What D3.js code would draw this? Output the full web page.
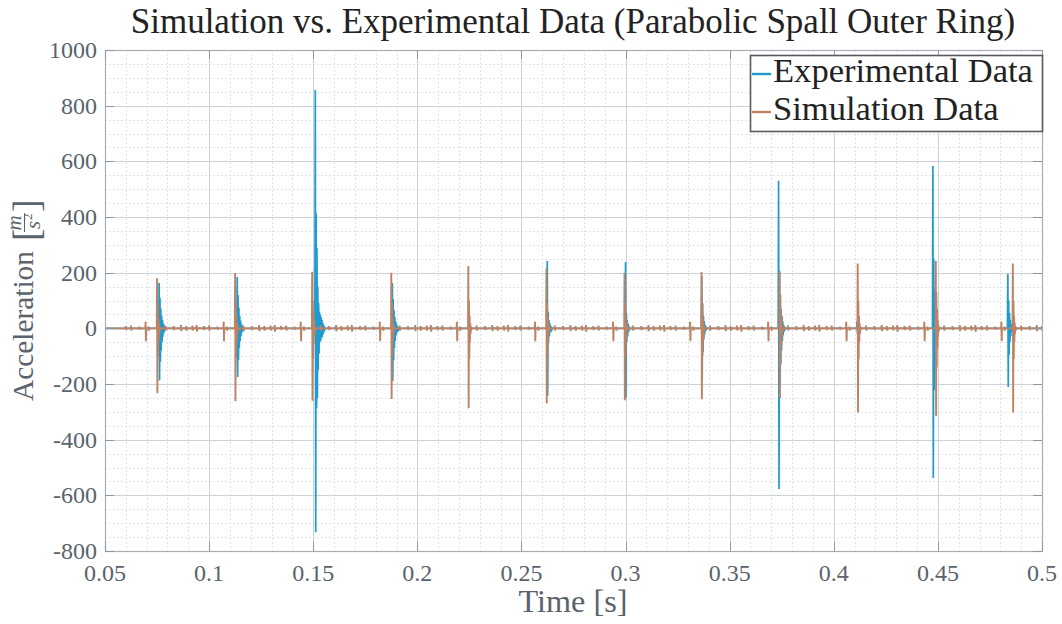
<!DOCTYPE html>
<html>
<head>
  <meta charset="utf-8">
  <title>Simulation vs. Experimental Data</title>
  <style>
    body { margin: 0; padding: 0; background: white; font-family: "Liberation Serif", serif; }
    #chart { width: 1062px; height: 624px; }
    .grid-major line { stroke: #cdd1da; stroke-width: 1; }
    .grid-minor line { stroke: #e0e3e9; stroke-width: 1; stroke-dasharray: 2,2; }
    .tick-label { fill: #5a636c; font-size: 24px; }
    .axis-label { fill: #5a636c; font-size: 30px; }
  </style>
</head>
<body>
  <div id="chart"></div>
  <script src="https://d3js.org/d3.v7.min.js"></script>
  <script>

  // impact times [s]
  var expTimes = [0.0760, 0.1135, 0.1510, 0.1880, 0.2248, 0.2624, 0.3000, 0.3366, 0.3735, 0.4112, 0.4476, 0.4836]
  var simTimes = [0.0750, 0.1125, 0.1495, 0.1875, 0.2245, 0.2620, 0.2995, 0.3365, 0.3740, 0.4115, 0.4490, 0.4860]

  // experimental bursts: alternating peak values after each impact [m/s^2]
  var expBursts = [
    [163, -187, 110, -120, 70, -80, 45, -50, 30, -30, 18, -18, 10, -10, 5, -5],
    [184, -175, 120, -115, 75, -70, 45, -45, 28, -28, 16, -16, 9, -9, 4, -4],
    [856, -733, 413, -287, 288, -250, 150, -150, 90, -90, 60, -50, 50, -45, 40, -35, 30, -30, 20, -20, 12, -12, 6, -6],
    [163, -189, 105, -115, 65, -70, 40, -45, 25, -25, 15, -15, 8, -8, 4, -4],
    [20, -15, 12, -10, 6, -5],
    [242, -242, 60, -50, 30, -28, 18, -15, 10, -8, 5, -4],
    [238, -250, 55, -50, 30, -28, 16, -14, 8, -7],
    [188, -186, 90, -85, 45, -40, 25, -22, 12, -10, 6, -5],
    [530, -577, 207, -205, 120, -130, 70, -80, 45, -45, 25, -25, 12, -12, 6, -6],
    [25, -20, 15, -12, 8, -6],
    [583, -538, 251, -222, 140, -130, 80, -75, 45, -45, 25, -25, 12, -12, 6, -6],
    [195, -211, 100, -95, 55, -50, 30, -28, 15, -14, 7, -6]
  ]

  // simulation bursts
  var simBursts = [
    [180, -233, 90, -100, 40, -45, 20, -20, 8, -8],
    [199, -262, 95, -105, 45, -45, 20, -20, 8, -8],
    [203, -260, 100, -110, 55, -55, 25, -25, 10, -10],
    [200, -254, 90, -100, 40, -45, 20, -20, 8, -8],
    [224, -287, 100, -110, 45, -50, 20, -20, 8, -8],
    [215, -269, 90, -100, 40, -45, 20, -20, 8, -8],
    [199, -258, 90, -100, 40, -45, 20, -20, 8, -8],
    [202, -255, 90, -100, 40, -45, 20, -20, 8, -8],
    [203, -251, 120, -130, 60, -60, 30, -30, 12, -12],
    [233, -302, 100, -110, 45, -50, 20, -20, 8, -8],
    [242, -315, 130, -140, 70, -70, 30, -30, 12, -12],
    [233, -302, 100, -110, 45, -50, 20, -20, 8, -8]
  ]

  // small simulation blips around each impact: [offset s, up, down]
  var simBlips = [
    [-0.0150, 8, -6], [-0.0125, 10, -8], [-0.0085, 6, -5], [-0.0055, 24, -46],
    [-0.0040, 6, -8], [0.0040, 10, -8], [0.0080, 8, -6], [0.0115, 12, -10],
    [0.0140, 8, -8], [0.0170, 10, -8], [0.0190, 12, -12]
  ]

  var xTicks = [0.05, 0.1, 0.15, 0.2, 0.25, 0.3, 0.35, 0.4, 0.45, 0.5]
  var xTickLabels = ["0.05", "0.1", "0.15", "0.2", "0.25", "0.3", "0.35", "0.4", "0.45", "0.5"]
  var yTicks = [-800, -600, -400, -200, 0, 200, 400, 600, 800, 1000]

  var width = 1062,
      height = 624
  var mLeft = 105, mRight = 1042, mTop = 50, mBottom = 551

  var x = d3.scaleLinear().domain([0.05, 0.5]).range([mLeft, mRight])
  var y = d3.scaleLinear().domain([-800, 1000]).range([mBottom, mTop])

  var svg = d3.select("#chart").append("svg")
      .attr("width", width)
      .attr("height", height)

  // clip the lines to the axes area
  svg.append("defs").append("clipPath").attr("id", "plot-clip")
    .append("rect")
      .attr("x", mLeft).attr("y", mTop)
      .attr("width", mRight - mLeft).attr("height", mBottom - mTop)

  // scale a text's font size so it spans the given width
  function fitWidth(sel, target) {
    var fs = parseFloat(window.getComputedStyle(sel.node()).fontSize)
    var w = sel.node().getComputedTextLength()
    sel.style("font-size", (fs * target / w) + "px")
  }

  // minor grid
  var minorX = d3.range(5, 51).map(function (d) { return d / 100 }).filter(function (d) { return Math.round(d * 1000) % 50 !== 0 })
  var minorY = d3.range(-800, 1001, 50).filter(function (d) { return d % 200 !== 0 })

  var gMinor = svg.append("g").attr("class", "grid-minor")
  gMinor.selectAll(".mx").data(minorX).enter().append("line")
      .attr("x1", function (d) { return Math.round(x(d)) + 0.5 })
      .attr("x2", function (d) { return Math.round(x(d)) + 0.5 })
      .attr("y1", mTop).attr("y2", mBottom)
  gMinor.selectAll(".my").data(minorY).enter().append("line")
      .attr("y1", function (d) { return Math.round(y(d)) + 0.5 })
      .attr("y2", function (d) { return Math.round(y(d)) + 0.5 })
      .attr("x1", mLeft).attr("x2", mRight)

  // major grid
  var gMajor = svg.append("g").attr("class", "grid-major")
  gMajor.selectAll(".gx").data(xTicks).enter().append("line")
      .attr("x1", function (d) { return Math.round(x(d)) + 0.5 })
      .attr("x2", function (d) { return Math.round(x(d)) + 0.5 })
      .attr("y1", mTop).attr("y2", mBottom)
  gMajor.selectAll(".gy").data(yTicks).enter().append("line")
      .attr("y1", function (d) { return Math.round(y(d)) + 0.5 })
      .attr("y2", function (d) { return Math.round(y(d)) + 0.5 })
      .attr("x1", mLeft).attr("x2", mRight)

  // build a line series from bursts (and blips)
  function buildSeries(times, bursts, dt, blips) {
    var events = []
    times.forEach(function (t, i) {
      events.push({ t: t, vals: bursts[i] })
      if (blips) blips.forEach(function (b) {
        events.push({ t: t + b[0], vals: [b[1], b[2]] })
      })
    })
    events.sort(function (a, b) { return a.t - b.t })
    var pts = [[0.05, 0]]
    events.forEach(function (e) {
      pts.push([e.t - dt, 0])
      e.vals.forEach(function (v, k) { pts.push([e.t + k * dt, v]) })
      pts.push([e.t + e.vals.length * dt, 0])
    })
    pts.push([0.5, 0])
    return pts
  }

  var expSeries = buildSeries(expTimes, expBursts, 0.0002)
  var simSeries = buildSeries(simTimes, simBursts, 0.00015, simBlips)

  var line = d3.line()
      .x(function (d) { return x(d[0]) })
      .y(function (d) { return y(d[1]) })

  var gLines = svg.append("g").attr("clip-path", "url(#plot-clip)")

  gLines.append("path")
      .datum(expSeries)
      .attr("d", line)
      .attr("fill", "none")
      .attr("stroke", "#1f9bcf")
      .attr("stroke-width", 1.7)

  gLines.append("path")
      .datum(simSeries)
      .attr("d", line)
      .attr("fill", "none")
      .attr("stroke", "#bf8262")
      .attr("stroke-width", 1.9)

  // axis box and ticks
  svg.append("rect")
      .attr("x", mLeft + 0.5).attr("y", mTop + 0.5)
      .attr("width", mRight - mLeft).attr("height", mBottom - mTop)
      .attr("fill", "none").attr("stroke", "#a8adb6").attr("stroke-width", 1.2)

  var gTicks = svg.append("g").attr("stroke", "#8f959f").attr("stroke-width", 1)
  yTicks.forEach(function (d) {
    var yy = Math.round(y(d)) + 0.5
    gTicks.append("line").attr("x1", mLeft).attr("x2", mLeft + 9).attr("y1", yy).attr("y2", yy)
    gTicks.append("line").attr("x1", mRight - 9).attr("x2", mRight).attr("y1", yy).attr("y2", yy)
  })
  xTicks.forEach(function (d) {
    var xx = Math.round(x(d)) + 0.5
    gTicks.append("line").attr("x1", xx).attr("x2", xx).attr("y1", mBottom).attr("y2", mBottom - 9)
    gTicks.append("line").attr("x1", xx).attr("x2", xx).attr("y1", mTop).attr("y2", mTop + 9)
  })

  // tick labels
  svg.append("g").selectAll("text").data(yTicks).enter().append("text")
      .attr("class", "tick-label")
      .attr("x", mLeft - 8)
      .attr("y", function (d) { return y(d) + 8 })
      .attr("text-anchor", "end")
      .text(function (d) { return d })

  svg.append("g").selectAll("text").data(xTicks).enter().append("text")
      .attr("class", "tick-label")
      .attr("x", function (d) { return x(d) })
      .attr("y", mBottom + 30)
      .attr("text-anchor", "middle")
      .text(function (d, i) { return xTickLabels[i] })

  // title
  var title = svg.append("text")
      .attr("x", 573).attr("y", 33)
      .attr("text-anchor", "middle")
      .attr("fill", "#222")
      .style("font-size", "30px")
      .text("Simulation vs. Experimental Data (Parabolic Spall Outer Ring)")
  fitWidth(title, 885)

  // x label
  var xLabel = svg.append("text")
      .attr("class", "axis-label")
      .attr("x", 573).attr("y", 612)
      .attr("text-anchor", "middle")
      .text("Time [s]")
  fitWidth(xLabel, 109)

  // y label with fraction m / s^2
  var gy = svg.append("g").attr("transform", "translate(33,303) rotate(-90)")
  var accel = gy.append("text").attr("class", "axis-label").attr("x", 0).attr("y", 0).text("Acceleration")
  fitWidth(accel, 150)
  var w1 = accel.node().getComputedTextLength()
  var totalW = w1 + 10 + 36
  accel.attr("x", -totalW / 2)
  var bx = -totalW / 2 + w1 + 10
  gy.append("text").attr("class", "axis-label").attr("x", bx).attr("y", 0)
      .style("font-size", "38px").attr("dy", 6).text("[")
  gy.append("text").attr("class", "axis-label").attr("x", bx + 18).attr("y", -12)
      .attr("text-anchor", "middle").style("font-size", "21px").style("font-style", "italic").text("m")
  gy.append("line").attr("x1", bx + 9).attr("x2", bx + 28).attr("y1", -8.5).attr("y2", -8.5)
      .attr("stroke", "#5a636c").attr("stroke-width", 1)
  gy.append("text").attr("class", "axis-label").attr("x", bx + 16).attr("y", 7)
      .attr("text-anchor", "middle").style("font-size", "21px").style("font-style", "italic").text("s")
  gy.append("text").attr("class", "axis-label").attr("x", bx + 21).attr("y", -1)
      .style("font-size", "13px").text("2")
  gy.append("text").attr("class", "axis-label").attr("x", bx + 29).attr("y", 0)
      .style("font-size", "38px").attr("dy", 6).text("]")

  // legend
  var legend = svg.append("g")
  legend.append("rect")
      .attr("x", 750.5).attr("y", 55.5).attr("width", 292).attr("height", 76)
      .attr("fill", "white").attr("stroke", "#555a60").attr("stroke-width", 1.6)
  var legendItems = [
    { name: "Experimental Data", color: "#1f9bcf" },
    { name: "Simulation Data", color: "#bf8262" }
  ]
  var legendFont = null
  legendItems.forEach(function (d, i) {
    var yy = 74 + i * 38
    legend.append("line").attr("x1", 752).attr("x2", 771).attr("y1", yy).attr("y2", yy)
        .attr("stroke", d.color).attr("stroke-width", 2.4)
    var t = legend.append("text").attr("x", 773).attr("y", yy + 8)
        .attr("fill", "#222").style("font-size", "28px").text(d.name)
    if (i === 0) { fitWidth(t, 260); legendFont = t.style("font-size") }
    else t.style("font-size", legendFont)
  })
  </script>
</body>
</html>
